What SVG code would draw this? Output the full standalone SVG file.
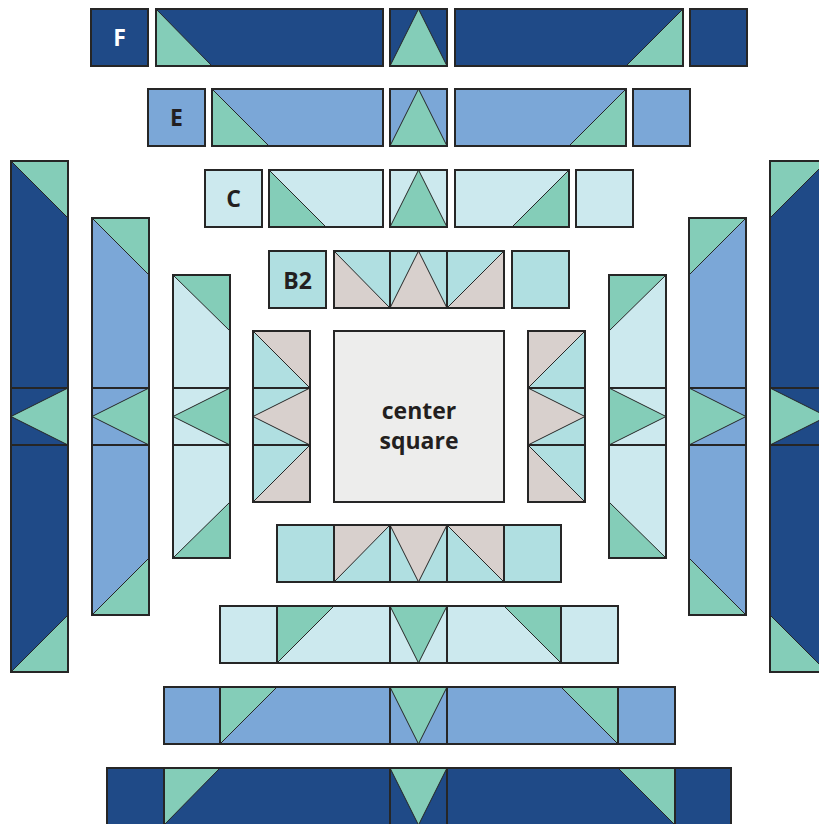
<svg xmlns="http://www.w3.org/2000/svg" width="819" height="824" viewBox="0 0 819 824">
<style>
.n{fill:#1f4a87}.m{fill:#7ba7d7}.l{fill:#cce9ee}.g{fill:#84cdb8}.t{fill:#b0dfe1}.k{fill:#d8d0cd}.c{fill:#ededec}
polygon{stroke:#262626;stroke-width:1;stroke-linejoin:round}
.o{fill:none;stroke:#262626;stroke-width:2}
.s{stroke:#262626;stroke-width:2}
text{font-family:"Open Sans","Liberation Sans",sans-serif;font-weight:bold;font-size:23px;text-anchor:middle;fill:#231f20}
.w{fill:#ffffff}
</style>
<rect width="819" height="824" fill="#ffffff"/>
<g id="rowF-top">
<g id="F-label"><rect class="n" x="91" y="9" width="57" height="57"/><rect class="o" x="91" y="9" width="57" height="57"/><text class="w" x="119.5" y="45.5">F</text></g>
<g id="F-top-left"><rect class="n" x="156" y="9" width="227" height="57"/><polygon class="g" points="156,9 156,66 212,66"/><rect class="o" x="156" y="9" width="227" height="57"/></g>
<g id="F-top-mid"><rect class="n" x="390" y="9" width="57" height="57"/><polygon class="g" points="390,66 447,66 418.5,9"/><rect class="o" x="390" y="9" width="57" height="57"/></g>
<g id="F-top-right"><rect class="n" x="455" y="9" width="228" height="57"/><polygon class="g" points="683,9 683,66 626,66"/><rect class="o" x="455" y="9" width="228" height="57"/></g>
<g id="F-top-end"><rect class="n" x="690" y="9" width="57" height="57"/><rect class="o" x="690" y="9" width="57" height="57"/></g>
</g>
<g id="rowE-top">
<g id="E-label"><rect class="m" x="148" y="89" width="57" height="57"/><rect class="o" x="148" y="89" width="57" height="57"/><text x="176.5" y="125.5">E</text></g>
<g id="E-top-left"><rect class="m" x="212" y="89" width="171" height="57"/><polygon class="g" points="212,89 212,146 269,146"/><rect class="o" x="212" y="89" width="171" height="57"/></g>
<g id="E-top-mid"><rect class="m" x="390" y="89" width="57" height="57"/><polygon class="g" points="390,146 447,146 418.5,89"/><rect class="o" x="390" y="89" width="57" height="57"/></g>
<g id="E-top-right"><rect class="m" x="455" y="89" width="171" height="57"/><polygon class="g" points="626,89 626,146 569,146"/><rect class="o" x="455" y="89" width="171" height="57"/></g>
<g id="E-top-end"><rect class="m" x="633" y="89" width="57" height="57"/><rect class="o" x="633" y="89" width="57" height="57"/></g>
</g>
<g id="rowC-top">
<g id="C-label"><rect class="l" x="205" y="170" width="57" height="57"/><rect class="o" x="205" y="170" width="57" height="57"/><text x="233.5" y="206.5">C</text></g>
<g id="C-top-left"><rect class="l" x="269" y="170" width="114" height="57"/><polygon class="g" points="269,170 269,227 326,227"/><rect class="o" x="269" y="170" width="114" height="57"/></g>
<g id="C-top-mid"><rect class="l" x="390" y="170" width="57" height="57"/><polygon class="g" points="390,227 447,227 418.5,170"/><rect class="o" x="390" y="170" width="57" height="57"/></g>
<g id="C-top-right"><rect class="l" x="455" y="170" width="114" height="57"/><polygon class="g" points="569,170 569,227 512,227"/><rect class="o" x="455" y="170" width="114" height="57"/></g>
<g id="C-top-end"><rect class="l" x="576" y="170" width="57" height="57"/><rect class="o" x="576" y="170" width="57" height="57"/></g>
</g>
<g id="rowB2-top">
<g id="B2-label"><rect class="t" x="269" y="251" width="57" height="57"/><rect class="o" x="269" y="251" width="57" height="57"/><text x="297.5" y="289">B2</text></g>
<g id="B2-top-mid"><rect class="t" x="334" y="251" width="170" height="57"/><polygon class="k" points="334,251 334,308 390,308"/><polygon class="k" points="390,308 447,308 418.5,251"/><polygon class="k" points="504,251 504,308 447,308"/><line class="s" x1="390" y1="251" x2="390" y2="308"/><line class="s" x1="447" y1="251" x2="447" y2="308"/><rect class="o" x="334" y="251" width="170" height="57"/></g>
<g id="B2-top-end"><rect class="t" x="512" y="251" width="57" height="57"/><rect class="o" x="512" y="251" width="57" height="57"/></g>
</g>
<g id="center"><rect class="c" x="334" y="331" width="170" height="171"/><rect class="o" x="334" y="331" width="170" height="171"/><text x="419" y="418.5" font-size="22" fill="#2b2b2b">center</text><text x="419" y="449" font-size="22" fill="#2b2b2b">square</text></g>
<g id="B2-left"><rect class="t" x="253" y="331" width="57" height="171"/><polygon class="k" points="253,331 310,331 310,388"/><polygon class="k" points="310,388 310,445 253,416.5"/><polygon class="k" points="310,445 310,502 253,502"/><line class="s" x1="253" y1="388" x2="310" y2="388"/><line class="s" x1="253" y1="445" x2="310" y2="445"/><rect class="o" x="253" y="331" width="57" height="171"/></g>
<g id="B2-right"><rect class="t" x="528" y="331" width="57" height="171"/><polygon class="k" points="528,331 585,331 528,388"/><polygon class="k" points="528,388 528,445 585,416.5"/><polygon class="k" points="528,445 585,502 528,502"/><line class="s" x1="528" y1="388" x2="585" y2="388"/><line class="s" x1="528" y1="445" x2="585" y2="445"/><rect class="o" x="528" y="331" width="57" height="171"/></g>
<g id="C-left"><rect class="l" x="173" y="275" width="57" height="283"/><polygon class="g" points="173,275 230,275 230,331"/><polygon class="g" points="230,388 230,445 173,416.5"/><polygon class="g" points="230,502 230,558 173,558"/><line class="s" x1="173" y1="388" x2="230" y2="388"/><line class="s" x1="173" y1="445" x2="230" y2="445"/><rect class="o" x="173" y="275" width="57" height="283"/></g>
<g id="C-right"><rect class="l" x="609" y="275" width="57" height="283"/><polygon class="g" points="609,275 666,275 609,331"/><polygon class="g" points="609,388 609,445 666,416.5"/><polygon class="g" points="609,502 666,558 609,558"/><line class="s" x1="609" y1="388" x2="666" y2="388"/><line class="s" x1="609" y1="445" x2="666" y2="445"/><rect class="o" x="609" y="275" width="57" height="283"/></g>
<g id="E-left"><rect class="m" x="92" y="218" width="57" height="397"/><polygon class="g" points="92,218 149,218 149,275"/><polygon class="g" points="149,388 149,445 92,416.5"/><polygon class="g" points="149,558 149,615 92,615"/><line class="s" x1="92" y1="388" x2="149" y2="388"/><line class="s" x1="92" y1="445" x2="149" y2="445"/><rect class="o" x="92" y="218" width="57" height="397"/></g>
<g id="E-right"><rect class="m" x="689" y="218" width="57" height="397"/><polygon class="g" points="689,218 746,218 689,275"/><polygon class="g" points="689,388 689,445 746,416.5"/><polygon class="g" points="689,558 746,615 689,615"/><line class="s" x1="689" y1="388" x2="746" y2="388"/><line class="s" x1="689" y1="445" x2="746" y2="445"/><rect class="o" x="689" y="218" width="57" height="397"/></g>
<g id="F-left"><rect class="n" x="11" y="161" width="57" height="511"/><polygon class="g" points="11,161 68,161 68,218"/><polygon class="g" points="68,388 68,445 11,416.5"/><polygon class="g" points="68,615 68,672 11,672"/><line class="s" x1="11" y1="388" x2="68" y2="388" stroke-width="3"/><line class="s" x1="11" y1="445" x2="68" y2="445" stroke-width="3"/><rect class="o" x="11" y="161" width="57" height="511"/></g>
<g id="F-right"><rect class="n" x="770" y="161" width="57" height="511"/><polygon class="g" points="770,161 827,161 770,218"/><polygon class="g" points="770,388 770,445 827,416.5"/><polygon class="g" points="770,615 827,672 770,672"/><line class="s" x1="770" y1="388" x2="827" y2="388" stroke-width="3"/><line class="s" x1="770" y1="445" x2="827" y2="445" stroke-width="3"/><rect class="o" x="770" y="161" width="57" height="511"/></g>
<g id="rowB-bottom"><rect class="t" x="277" y="525" width="284" height="57"/><polygon class="k" points="334,525 390,525 334,582"/><polygon class="k" points="390,525 447,525 418.5,582"/><polygon class="k" points="447,525 504,525 504,582"/><line class="s" x1="334" y1="525" x2="334" y2="582"/><line class="s" x1="390" y1="525" x2="390" y2="582"/><line class="s" x1="447" y1="525" x2="447" y2="582"/><line class="s" x1="504" y1="525" x2="504" y2="582"/><rect class="o" x="277" y="525" width="284" height="57"/></g>
<g id="rowC-bottom"><rect class="l" x="220" y="606" width="398" height="57"/><polygon class="g" points="277,606 334,606 277,663"/><polygon class="g" points="390,606 447,606 418.5,663"/><polygon class="g" points="504,606 561,606 561,663"/><line class="s" x1="277" y1="606" x2="277" y2="663"/><line class="s" x1="390" y1="606" x2="390" y2="663"/><line class="s" x1="447" y1="606" x2="447" y2="663"/><line class="s" x1="561" y1="606" x2="561" y2="663"/><rect class="o" x="220" y="606" width="398" height="57"/></g>
<g id="rowE-bottom"><rect class="m" x="164" y="687" width="511" height="57"/><polygon class="g" points="220,687 277,687 220,744"/><polygon class="g" points="390,687 447,687 418.5,744"/><polygon class="g" points="561,687 618,687 618,744"/><line class="s" x1="220" y1="687" x2="220" y2="744"/><line class="s" x1="390" y1="687" x2="390" y2="744"/><line class="s" x1="447" y1="687" x2="447" y2="744"/><line class="s" x1="618" y1="687" x2="618" y2="744"/><rect class="o" x="164" y="687" width="511" height="57"/></g>
<g id="rowF-bottom"><rect class="n" x="107" y="768" width="624" height="57"/><polygon class="g" points="164,768 220,768 164,825"/><polygon class="g" points="390,768 447,768 418.5,825"/><polygon class="g" points="618,768 675,768 675,825"/><line class="s" x1="164" y1="768" x2="164" y2="825"/><line class="s" x1="390" y1="768" x2="390" y2="825"/><line class="s" x1="447" y1="768" x2="447" y2="825"/><line class="s" x1="675" y1="768" x2="675" y2="825"/><rect class="o" x="107" y="768" width="624" height="57"/></g>
<g id="connectors"/>
</svg>
